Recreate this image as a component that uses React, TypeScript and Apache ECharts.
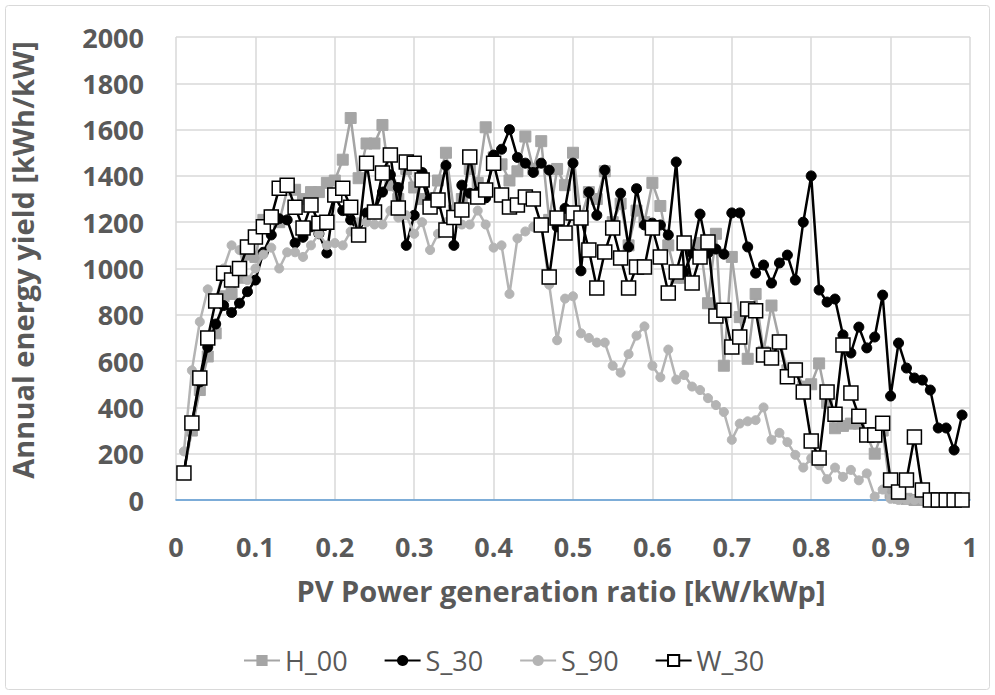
import React, { useEffect, useRef } from "react";
import * as echarts from "echarts";

const xValues = [
  0.01, 0.02, 0.03, 0.04, 0.05, 0.06, 0.07, 0.08, 0.09, 0.1,
  0.11, 0.12, 0.13, 0.14, 0.15, 0.16, 0.17, 0.18, 0.19, 0.2,
  0.21, 0.22, 0.23, 0.24, 0.25, 0.26, 0.27, 0.28, 0.29, 0.3,
  0.31, 0.32, 0.33, 0.34, 0.35, 0.36, 0.37, 0.38, 0.39, 0.4,
  0.41, 0.42, 0.43, 0.44, 0.45, 0.46, 0.47, 0.48, 0.49, 0.5,
  0.51, 0.52, 0.53, 0.54, 0.55, 0.56, 0.57, 0.58, 0.59, 0.6,
  0.61, 0.62, 0.63, 0.64, 0.65, 0.66, 0.67, 0.68, 0.69, 0.7,
  0.71, 0.72, 0.73, 0.74, 0.75, 0.76, 0.77, 0.78, 0.79, 0.8,
  0.81, 0.82, 0.83, 0.84, 0.85, 0.86, 0.87, 0.88, 0.89, 0.9,
  0.91, 0.92, 0.93, 0.94, 0.95, 0.96, 0.97, 0.98, 0.99,
];

const H_00 = [
  120, 300, 475, 620, 720, 880, 890, 960, 1060, 1050,
  1210, 1230, 1200, 1340, 1340, 1300, 1330, 1330, 1370, 1380,
  1470, 1650, 1390, 1540, 1540, 1620, 1360, 1300, 1430, 1350,
  1300, 1280, 1380, 1500, 1250, 1300, 1430, 1370, 1610, 1480,
  1450, 1380, 1420, 1570, 1430, 1550, 1210, 1430, 1360, 1500,
  1220, 1330, 1300, 1420, 1200, 1280, 1100, 1250, 1200, 1370,
  1270, 1100, 960, 960, 1100, 1110, 850, 1150, 580, 1050,
  790, 610, 890, 640, 840, 690, 560, 570, 490, 500,
  590, 420, 310, 320, 330, 330, 280, 200, 300, 30,
  10, 5, 0, 0, 0, 0, 0, 0, 0,
];

const S_30 = [
  120, 330, 510, 660, 760, 840, 810, 850, 900, 950,
  1070, 1145, 1215, 1210, 1110, 1135, 1180, 1150, 1067, 1310,
  1250, 1210, 1150, 1240, 1250, 1330, 1405, 1350, 1100, 1230,
  1415, 1300, 1280, 1445, 1100, 1360, 1325, 1330, 1305, 1490,
  1515, 1600, 1480, 1455, 1415, 1455, 1425, 1180, 1260, 1455,
  990, 1330, 1230, 1425, 1180, 1325, 1093, 1345, 1188, 1196,
  1188, 1145, 1460, 985, 1067, 1235, 1067, 1084, 1062, 1240,
  1240, 1093, 980, 1015, 937, 1024, 1058, 950, 1200, 1400,
  907, 855, 868, 713, 635, 747, 657, 704, 885, 449,
  678, 570, 527, 518, 475, 311, 311, 216, 367,
];

const S_90 = [
  210, 560, 770, 910, 860, 1000, 1100, 1080, 950, 1000,
  1060, 1090, 1000, 1070, 1070, 1050, 1100, 1150, 1100, 1110,
  1100, 1160, 1200, 1200, 1190, 1190, 1250, 1220, 1230, 1150,
  1200, 1080, 1150, 1200, 1220, 1190, 1190, 1250, 1190, 1090,
  1100, 890, 1130, 1160, 1180, 1190, 930, 690, 870, 880,
  720, 700, 680, 680, 580, 550, 630, 710, 750, 580,
  530, 650, 520, 540, 490, 475, 440, 410, 380, 260,
  330, 340, 345, 400, 260, 290, 250, 195, 140, 180,
  150, 90, 140, 100, 130, 85, 115, 15, 45, 5,
  0, 0, 0, 0, 0, 0, 0, 0, 0,
];

const W_30 = [
  117, 333, 527, 700, 860, 980, 950, 1000, 1093, 1136,
  1180, 1222, 1347, 1360, 1265, 1175, 1274, 1196, 1200, 1317,
  1347, 1265, 1145, 1455, 1244, 1412, 1490, 1261, 1460, 1455,
  1382, 1266, 1296, 1166, 1220, 1253, 1482, 1309, 1339, 1455,
  1317, 1266, 1274, 1309, 1300, 1188, 963, 1218, 1153, 1240,
  1218, 1080, 916, 1071, 1175, 1045, 916, 1007, 1007, 1175,
  1050, 894, 985, 1110, 937, 1050, 1114, 795, 820, 661,
  704, 825, 818, 626, 613, 683, 532, 562, 467, 255,
  181, 467, 370, 670, 462, 362, 281, 281, 332, 86,
  35, 86, 272, 43, 0, 0, 0, 0, 0,
];

const seriesNames = ["H_00", "S_30", "S_90", "W_30"];
const xTitle = "PV Power generation ratio [kW/kWp]";
const yTitle = "Annual energy yield [kWh/kW]";

const pairs = (ys: number[]) => xValues.map((x, i) => [x, ys[i]]);

export default function App() {
  const ref = useRef<HTMLDivElement>(null);
  useEffect(() => {
    if (!ref.current) return;
    const chart = echarts.init(ref.current, undefined, { renderer: "svg" });
    const font = "'Open Sans', 'Liberation Sans', sans-serif";
    const textColor = "#595959";
    chart.setOption({
      animation: false,
      backgroundColor: "#ffffff",
      textStyle: { fontFamily: font },
      grid: { left: 176, right: 25, top: 37, bottom: 195, containLabel: false },
      graphic: [
        {
          type: "rect",
          shape: { x: 5.5, y: 5.5, width: 984, height: 684, r: 3 },
          style: { fill: "none", stroke: "#d9d9d9", lineWidth: 1 },
          silent: true,
        },
        {
          type: "text",
          x: 561,
          y: 590,
          style: {
            text: xTitle,
            fill: textColor,
            font: `bold 29px ${font}`,
            textAlign: "center",
            textVerticalAlign: "middle",
          },
        },
        {
          type: "text",
          x: 22,
          y: 260,
          rotation: Math.PI / 2,
          style: {
            text: yTitle,
            fill: textColor,
            font: `bold 29px ${font}`,
            textAlign: "center",
            textVerticalAlign: "middle",
          },
        },
      ],
      legend: {
        data: seriesNames,
        left: 238,
        top: 642,
        itemWidth: 36,
        itemHeight: 14,
        itemGap: 36,
        textStyle: { fontSize: 27, color: textColor, fontFamily: font },
      },
      xAxis: {
        type: "value",
        min: 0,
        max: 1,
        interval: 0.1,
        axisLine: { show: true, lineStyle: { color: "#5b9bd5", width: 1.5 } },
        axisTick: { show: false },
        splitLine: { show: true, lineStyle: { color: "#d9d9d9", width: 1.5 } },
        axisLabel: {
          margin: 33,
          fontSize: 27,
          fontWeight: "bold",
          color: textColor,
          fontFamily: font,
          formatter: (v: number) => String(Math.round(v * 10) / 10),
        },
      },
      yAxis: {
        type: "value",
        min: 0,
        max: 2000,
        interval: 200,
        axisLine: { show: false },
        axisTick: { show: false },
        splitLine: { show: true, lineStyle: { color: "#d9d9d9", width: 1.5 } },
        axisLabel: {
          margin: 32,
          fontSize: 27,
          fontWeight: "bold",
          color: textColor,
          fontFamily: font,
          formatter: (v: number) => String(v),
        },
      },
      series: [
        {
          name: "H_00",
          type: "line",
          data: pairs(H_00),
          symbol: "rect",
          symbolSize: 11,
          lineStyle: { color: "#a5a5a5", width: 2.5 },
          itemStyle: { color: "#a5a5a5", borderColor: "#a5a5a5" },
          z: 2,
        },
        {
          name: "S_30",
          type: "line",
          data: pairs(S_30),
          symbol: "circle",
          symbolSize: 10,
          lineStyle: { color: "#000000", width: 2.5 },
          itemStyle: { color: "#000000", borderColor: "#000000" },
          z: 3,
        },
        {
          name: "S_90",
          type: "line",
          data: pairs(S_90),
          symbol: "circle",
          symbolSize: 9,
          lineStyle: { color: "#b4b4b4", width: 2.5 },
          itemStyle: { color: "#b4b4b4", borderColor: "#b4b4b4" },
          z: 4,
        },
        {
          name: "W_30",
          type: "line",
          data: pairs(W_30),
          symbol: "rect",
          symbolSize: 14,
          lineStyle: { color: "#000000", width: 2.5 },
          itemStyle: { color: "#ffffff", borderColor: "#000000", borderWidth: 1.5 },
          z: 5,
        },
      ],
    });
    return () => chart.dispose();
  }, []);
  return (
    <div
      ref={ref}
      style={{ position: "fixed", left: 0, top: 0, width: 995, height: 695, background: "#fff" }}
    />
  );
}
